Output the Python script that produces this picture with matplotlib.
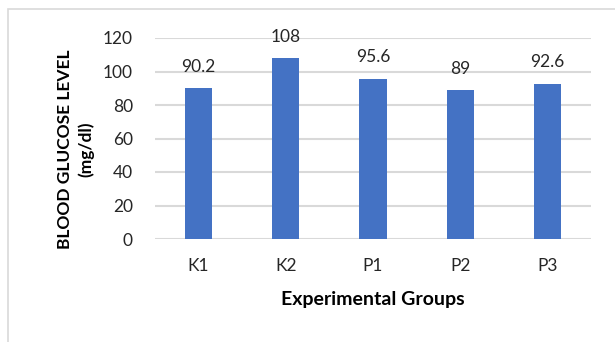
import matplotlib.pyplot as plt
from matplotlib.patches import Rectangle

groups = ['K1', 'K2', 'P1', 'P2', 'P3']
glucose = [90.2, 108, 95.6, 89, 92.6]
value_labels = ['90.2', '108', '95.6', '89', '92.6']
yticks = [0, 20, 40, 60, 80, 100, 120]

plt.rcParams['font.family'] = ['Lato', 'DejaVu Sans']

fig = plt.figure(figsize=(6.15, 3.42), dpi=100)
W, H = 615, 342
ax = fig.add_axes([155 / W, 1 - 239 / H, (591 - 155) / W, (239 - 38) / H])

## chart frame (cut off at right and bottom like the original)
fig.patches.append(Rectangle((8 / W, -0.1), 1.2, 1 - 9 / H + 0.1, transform=fig.transFigure,
                             fill=False, edgecolor='#d9d9d9', linewidth=1.2))

x = range(len(groups))
ax.bar(x, glucose, width=0.31, color='#4472C4', zorder=3)
for xi, v, lab in zip(x, glucose, value_labels):
    ax.text(xi, v + 8, lab, ha='center', va='bottom', fontsize=12.5, color='#262626')

ax.set_xlim(-0.5, len(groups) - 0.5)
ax.set_ylim(0, 120)
ax.set_yticks(yticks)
ax.set_xticks(list(x))
ax.set_xticklabels(groups)
ax.grid(axis='y', color='#d9d9d9', linewidth=1.5, zorder=0)
for s in ax.spines.values():
    s.set_visible(False)
ax.tick_params(length=0, labelsize=12.5, labelcolor='#262626')
ax.tick_params(axis='x', pad=14)
ax.tick_params(axis='y', pad=16)

ax.set_xlabel('Experimental Groups', fontsize=14, fontweight='bold', labelpad=12)
ax.set_ylabel('BLOOD GLUCOSE LEVEL\n(mg/dl)', fontsize=12.5, fontweight='bold',
              linespacing=1.3)
ax.yaxis.set_label_coords(-0.14, 0.445)

fig.savefig('out.png', dpi=100)
